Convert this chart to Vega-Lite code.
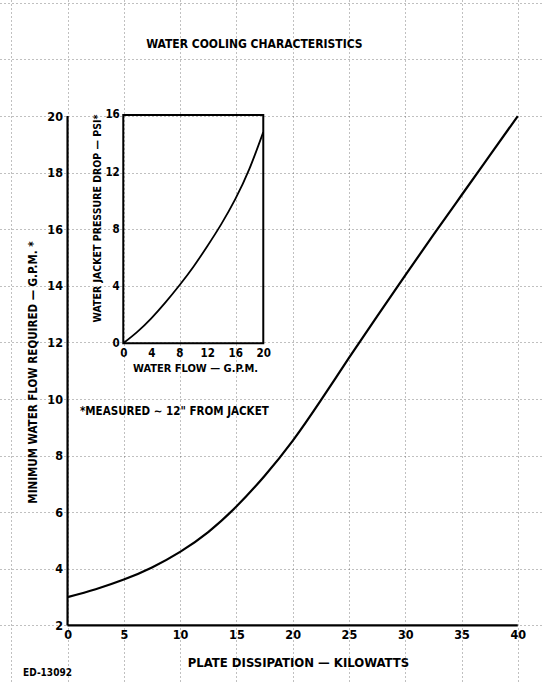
{
  "$schema": "https://vega.github.io/schema/vega-lite/v6.json",
  "width": 543,
  "height": 682,
  "autosize": {"type": "none"},
  "padding": 0,
  "background": "white",
  "config": {
    "view": {"stroke": null},
    "font": "'DejaVu Sans Condensed', 'Liberation Sans Narrow', 'DejaVu Sans', sans-serif",
    "axis": {"labelColor": "black", "titleColor": "black", "labelFontWeight": "bold", "titleFontWeight": "bold"}
  },
  "datasets": {
    "main": [
      {"kw": 0, "gpm": 3.0},
      {"kw": 2.5, "gpm": 3.28},
      {"kw": 5, "gpm": 3.62},
      {"kw": 7.5, "gpm": 4.05},
      {"kw": 10, "gpm": 4.6},
      {"kw": 12.5, "gpm": 5.3},
      {"kw": 15, "gpm": 6.2},
      {"kw": 17.5, "gpm": 7.28},
      {"kw": 20, "gpm": 8.52},
      {"kw": 22.5, "gpm": 9.95},
      {"kw": 25, "gpm": 11.45},
      {"kw": 27.5, "gpm": 12.92},
      {"kw": 30, "gpm": 14.37},
      {"kw": 32.5, "gpm": 15.8},
      {"kw": 35, "gpm": 17.2},
      {"kw": 37.5, "gpm": 18.6},
      {"kw": 40, "gpm": 20.0}
    ],
    "inset": [
      {"flow": 0, "psi": 0},
      {"flow": 2, "psi": 0.8},
      {"flow": 4, "psi": 1.75},
      {"flow": 6, "psi": 2.85},
      {"flow": 8, "psi": 4.05},
      {"flow": 10, "psi": 5.35},
      {"flow": 12, "psi": 6.8},
      {"flow": 14, "psi": 8.35},
      {"flow": 16, "psi": 10.1},
      {"flow": 18, "psi": 12.2},
      {"flow": 20, "psi": 14.8}
    ],
    "one": [{}]
  },
  "layer": [
    {
      "layer": [
        {
          "data": {"name": "main"},
          "mark": {"type": "line", "color": "black", "strokeWidth": 2.2, "interpolate": "natural"},
          "encoding": {
            "x": {
              "field": "kw", "type": "quantitative",
              "scale": {"domain": [-6, 42.24], "nice": false, "zero": false},
              "axis": {
                "orient": "bottom", "offset": -56.6,
                "values": [-5, -2.5, 0, 2.5, 5, 7.5, 10, 12.5, 15, 17.5, 20, 22.5, 25, 27.5, 30, 32.5, 35, 37.5, 40],
                "grid": true, "gridColor": "#555", "gridDash": [1, 3], "gridOpacity": 0.75, "gridWidth": 1,
                "domain": false, "ticks": false,
                "labelExpr": "datum.value >= 0 && datum.value % 5 == 0 ? format(datum.value, 'd') : ''",
                "labelFlush": false, "labelOverlap": false, "labelPadding": 3, "labelFontSize": 12.5,
                "title": "PLATE DISSIPATION — KILOWATTS", "titleFontSize": 13,
                "titleX": 298, "titleY": 37, "titleBaseline": "middle", "titleAlign": "center", "titleAnchor": null
              }
            },
            "y": {
              "field": "gpm", "type": "quantitative",
              "scale": {"domain": [0, 24.1], "nice": false, "zero": false},
              "axis": {
                "orient": "left", "offset": -67.5,
                "values": [0, 1, 2, 3, 4, 5, 6, 7, 8, 9, 10, 11, 12, 13, 14, 15, 16, 17, 18, 19, 20, 21, 22, 23, 24],
                "grid": true, "gridColor": "#555", "gridDash": [1, 3], "gridOpacity": 0.75, "gridWidth": 1,
                "domain": false, "ticks": false,
                "labelExpr": "datum.value >= 2 && datum.value <= 20 && datum.value % 2 == 0 ? format(datum.value, 'd') : ''",
                "labelFlush": false, "labelOverlap": false, "labelPadding": 5, "labelFontSize": 12.5,
                "title": "MINIMUM WATER FLOW REQUIRED — G.P.M.    *", "titleFontSize": 11.5,
                "titleX": -34, "titleY": 372, "titleAngle": 270, "titleBaseline": "middle", "titleAlign": "center", "titleAnchor": null
              }
            }
          }
        },
        {
          "data": {"name": "one"},
          "mark": {"type": "rule", "color": "black", "strokeWidth": 2.2},
          "encoding": {
            "x": {"datum": 0, "type": "quantitative", "scale": {"domain": [-6, 42.24], "nice": false, "zero": false}},
            "y": {"datum": 2, "type": "quantitative", "scale": {"domain": [0, 24.1], "nice": false, "zero": false}},
            "y2": {"datum": 20}
          }
        },
        {
          "data": {"name": "one"},
          "mark": {"type": "rule", "color": "black", "strokeWidth": 2.4},
          "encoding": {
            "x": {"datum": 0, "type": "quantitative", "scale": {"domain": [-6, 42.24], "nice": false, "zero": false}},
            "x2": {"datum": 40},
            "y": {"datum": 2, "type": "quantitative", "scale": {"domain": [0, 24.1], "nice": false, "zero": false}}
          }
        },
        {
          "data": {"name": "one"},
          "mark": {"type": "text", "fontWeight": "bold", "fontSize": 12, "align": "center", "baseline": "middle", "color": "black"},
          "encoding": {
            "x": {"datum": 16.6, "type": "quantitative", "scale": {"domain": [-6, 42.24], "nice": false, "zero": false}},
            "y": {"datum": 22.55, "type": "quantitative", "scale": {"domain": [0, 24.1], "nice": false, "zero": false}},
            "text": {"value": "WATER COOLING CHARACTERISTICS"}
          }
        },
        {
          "data": {"name": "one"},
          "mark": {"type": "text", "fontWeight": "bold", "fontSize": 11.5, "align": "left", "baseline": "middle", "color": "black"},
          "encoding": {
            "x": {"datum": 1.1, "type": "quantitative", "scale": {"domain": [-6, 42.24], "nice": false, "zero": false}},
            "y": {"datum": 9.54, "type": "quantitative", "scale": {"domain": [0, 24.1], "nice": false, "zero": false}},
            "text": {"value": "*MEASURED ∼ 12\" FROM JACKET"}
          }
        },
        {
          "data": {"name": "one"},
          "mark": {"type": "text", "fontWeight": "bold", "fontSize": 10, "align": "left", "baseline": "middle", "color": "black"},
          "encoding": {
            "x": {"datum": -3.95, "type": "quantitative", "scale": {"domain": [-6, 42.24], "nice": false, "zero": false}},
            "y": {"datum": 0.32, "type": "quantitative", "scale": {"domain": [0, 24.1], "nice": false, "zero": false}},
            "text": {"value": "ED-13092"}
          }
        }
      ]
    },
    {
      "layer": [
        {
          "data": {"name": "inset"},
          "mark": {"type": "line", "color": "black", "strokeWidth": 1.8, "interpolate": "natural"},
          "encoding": {
            "x": {
              "field": "flow", "type": "quantitative",
              "scale": {"domain": [-17.61, 59.96], "nice": false, "zero": false},
              "axis": {
                "orient": "bottom", "offset": -338.7, "values": [0, 4, 8, 12, 16, 20],
                "grid": false, "domain": false, "ticks": false, "format": "d",
                "labelFlush": false, "labelOverlap": false, "labelPadding": 4, "labelFontSize": 11.5,
                "title": "WATER FLOW — G.P.M.", "titleFontSize": 11,
                "titleX": 195, "titleY": 25, "titleBaseline": "middle", "titleAlign": "center", "titleAnchor": null
              }
            },
            "y": {
              "field": "psi", "type": "quantitative",
              "scale": {"domain": [-23.74, 24.06], "nice": false, "zero": false},
              "axis": {
                "orient": "left", "offset": -123.3, "values": [0, 4, 8, 12, 16],
                "grid": false, "domain": false, "ticks": false, "format": "d",
                "labelFlush": false, "labelOverlap": false, "labelPadding": 4, "labelFontSize": 11.5,
                "title": "WATER JACKET PRESSURE DROP — PSI*", "titleFontSize": 10.5,
                "titleX": -26, "titleY": 218, "titleAngle": 270, "titleBaseline": "middle", "titleAlign": "center", "titleAnchor": null
              }
            }
          }
        },
        {
          "data": {"name": "one"},
          "mark": {"type": "rect", "fill": null, "fillOpacity": 0, "stroke": "black", "strokeWidth": 2},
          "encoding": {
            "x": {"datum": 0, "type": "quantitative", "scale": {"domain": [-17.61, 59.96], "nice": false, "zero": false}},
            "x2": {"datum": 20},
            "y": {"datum": 0, "type": "quantitative", "scale": {"domain": [-23.74, 24.06], "nice": false, "zero": false}},
            "y2": {"datum": 16}
          }
        }
      ]
    }
  ],
  "resolve": {"scale": {"x": "independent", "y": "independent"}, "axis": {"x": "independent", "y": "independent"}}
}
